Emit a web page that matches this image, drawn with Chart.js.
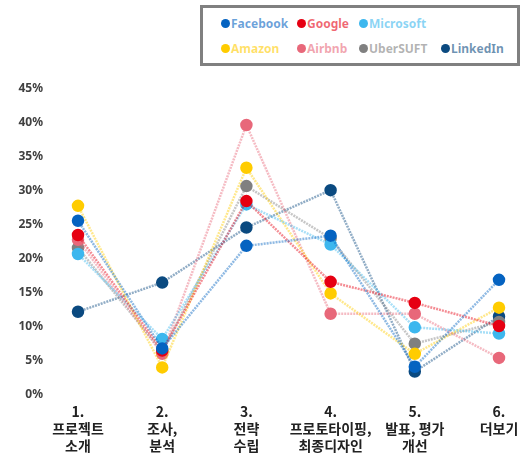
<!DOCTYPE html>
<html lang="ko">
<head>
    <meta charset="UTF-8">
    <title>Line Chart</title>
    <script src="https://cdn.jsdelivr.net/npm/chart.js"></script>
    <style>
        body { margin: 0; background: #fff; }
        #wrap { position: relative; width: 527px; height: 469px; }
        #legend {
            position: absolute; left: 200px; top: 5px; width: 314px; height: 55px;
            border: 3px solid #808080; background: #fff;
            font-family: 'Noto Sans', sans-serif; font-size: 12px; font-weight: bold;
        }
        .item { position: absolute; display: flex; align-items: center; white-space: nowrap; }
        .dot { width: 9px; height: 9px; border-radius: 50%; margin-right: 1px; }
    </style>
</head>
<body>
<div id="wrap">
    <canvas id="chart" width="527" height="469"></canvas>
    <div id="legend"></div>
</div>
<script>
    const categories = [
        ['1.', '프로젝트', '소개'],
        ['2.', '조사,', '분석'],
        ['3.', '전략', '수립'],
        ['4.', '프로토타이핑,', '최종디자인'],
        ['5.', '발표, 평가', '개선'],
        ['6.', '더보기']
    ];
    const facebook  = [25.6, 6.8, 21.9, 23.4, 4.1, 16.9];
    const google    = [23.5, 6.5, 28.5, 16.6, 13.5, 10.1];
    const microsoft = [20.7, 8.2, 28.0, 22.1, 9.9, 9.0];
    const amazon    = [27.8, 4.0, 33.4, 14.9, 6.0, 12.8];
    const airbnb    = [22.8, 6.0, 39.7, 11.9, 11.9, 5.4];
    const uber      = [21.6, 6.3, 30.7, 23.0, 7.5, 10.7];
    const linkedin  = [12.2, 16.5, 24.6, 30.1, 3.4, 11.5];
    const yTicks = [0, 5, 10, 15, 20, 25, 30, 35, 40, 45];

    const series = [
        { label: 'Facebook',  data: facebook,  color: '#0563C1', row: 0, col: 0 },
        { label: 'Google',    data: google,    color: '#E60012', row: 0, col: 1 },
        { label: 'Microsoft', data: microsoft, color: '#3DB7EE', row: 0, col: 2 },
        { label: 'Amazon',    data: amazon,    color: '#FFCC00', row: 1, col: 0 },
        { label: 'Airbnb',    data: airbnb,    color: '#E8687A', row: 1, col: 1 },
        { label: 'UberSUFT',  data: uber,      color: '#808080', row: 1, col: 2 },
        { label: 'LinkedIn',  data: linkedin,  color: '#0B4A80', row: 1, col: 3 }
    ];

    function fade(hex, a) {
        const n = parseInt(hex.slice(1), 16);
        return `rgba(${n >> 16}, ${(n >> 8) & 255}, ${n & 255}, ${a})`;
    }

    // legend in a box, two rows like the original
    const legend = document.getElementById('legend');
    const colX = [18, 94, 156, 238];
    series.forEach(s => {
        const el = document.createElement('div');
        el.className = 'item';
        el.style.left = colX[s.col] + 'px';
        el.style.top = (s.row === 0 ? 7 : 32) + 'px';
        el.innerHTML = `<span class="dot" style="background:${s.color}"></span><span style="color:${fade(s.color, 0.6)}">${s.label}</span>`;
        legend.appendChild(el);
    });

    new Chart(document.getElementById('chart'), {
        type: 'line',
        data: {
            labels: categories,
            datasets: series.map(s => ({
                label: s.label,
                data: s.data,
                borderColor: fade(s.color, 0.45),
                backgroundColor: s.color,
                pointBackgroundColor: s.color,
                pointBorderColor: s.color,
                borderWidth: 2.5,
                borderDash: [2, 1],
                pointRadius: 5,
                tension: 0
            }))
        },
        options: {
            responsive: false,
            animation: false,
            layout: { padding: { top: 89, right: 28, left: 0, bottom: 14 } },
            plugins: { legend: { display: false }, tooltip: { enabled: false } },
            scales: {
                x: {
                    offset: false,
                    grid: { display: false },
                    border: { display: false },
                    ticks: {
                        color: '#222',
                        padding: 1,
                        maxRotation: 0,
                        autoSkip: false,
                        font: { family: "'Noto Sans CJK KR'", size: 14, weight: 'bold', lineHeight: 1.2 }
                    }
                },
                y: {
                    min: 0,
                    max: 45,
                    afterBuildTicks: axis => { axis.ticks = yTicks.map(v => ({ value: v })); },
                    afterFit: axis => { axis.width = 78; },
                    grid: { display: false },
                    border: { display: false },
                    ticks: {
                        color: '#404040',
                        padding: 27,
                        callback: v => v + '%',
                        font: { family: "'Noto Sans'", size: 12, weight: 'bold' }
                    }
                }
            }
        }
    });
</script>
</body>
</html>
